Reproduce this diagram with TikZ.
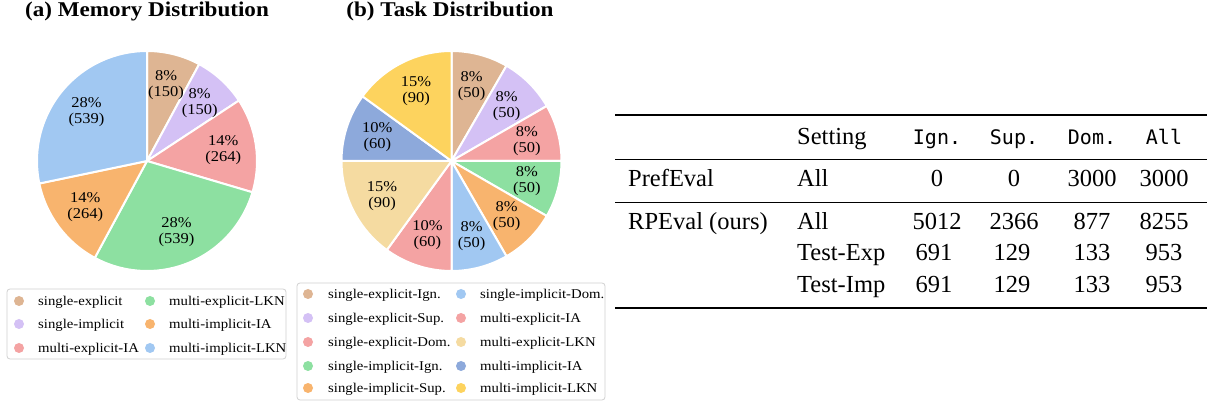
\documentclass[tikz,border=0pt]{standalone}
\usepackage{fontspec}
\setmainfont{Liberation Serif}
\newfontfamily\chartfont[FakeStretch=1.1]{Liberation Serif}
\newfontfamily\codefont{DejaVu Sans Mono}
\definecolor{ctan}{HTML}{DEB593}
\definecolor{clav}{HTML}{D4C1F5}
\definecolor{cpink}{HTML}{F4A3A3}
\definecolor{cgreen}{HTML}{8DE0A1}
\definecolor{corange}{HTML}{F8B46E}
\definecolor{cblue}{HTML}{A1C8F2}
\definecolor{cwheat}{HTML}{F5DBA1}
\definecolor{cdblue}{HTML}{8DA9DB}
\definecolor{cyellow}{HTML}{FDD35E}
\newcommand\myslice[4]{%
  \fill[#4, draw=white, line width=2pt, line join=round] (#1) -- ++(#2:110) arc[start angle=#2, end angle=#3, radius=110] -- cycle;}
\tikzset{
  pielabel/.style={font=\chartfont\fontsize{15}{16}\selectfont, align=center, inner sep=0pt},
  charttitle/.style={font=\chartfont\bfseries\fontsize{21}{24}\selectfont, anchor=base, inner sep=0pt},
  legmark/.style={circle, fill=#1, minimum size=10pt, inner sep=0pt},
  legtext/.style={font=\chartfont\fontsize{13.4}{16}\selectfont, anchor=base west, inner sep=0pt},
  legbox/.style={draw=black!18, line width=0.8pt, rounded corners=3pt, fill=white},
  tabtext/.style={font=\fontsize{24.5}{28}\selectfont, inner sep=0pt},
  tabcode/.style={font=\codefont\fontsize{20}{24}\selectfont, inner sep=0pt},
}
\begin{document}
\begin{tikzpicture}[x=1pt,y=1pt]
\useasboundingbox (0,0) rectangle (1210,407);
\fill[white] (0,0) rectangle (1210,407);

% ---------- (a) Memory Distribution ----------
\node[charttitle] (ta) at (147,390) {(a) Memory Distribution};
\coordinate (ca) at (147,246);
\myslice{ca}{90}{61.669}{ctan}
\myslice{ca}{61.669}{33.338}{clav}
\myslice{ca}{33.338}{-16.526}{cpink}
\myslice{ca}{-16.526}{-118.331}{cgreen}
\myslice{ca}{-118.331}{-168.195}{corange}
\myslice{ca}{-168.195}{-270}{cblue}
\node[pielabel] (la1) at ([shift={(75.835:78)}]ca) {8\%\\(150)};
\node[pielabel] (la2) at ([shift={(47.50:78)}]ca) {8\%\\(150)};
\node[pielabel] (la3) at ([shift={(8.406:77)}]ca) {14\%\\(264)};
\node[pielabel] (la4) at ([shift={(-67.43:77)}]ca) {28\%\\(539)};
\node[pielabel] (la5) at ([shift={(-143.26:77)}]ca) {14\%\\(264)};
\node[pielabel] (la6) at ([shift={(-219.10:78)}]ca) {28\%\\(539)};

% legend (a)
\draw[legbox] (7,48) rectangle (286,118);
\node[legmark=ctan] (ma1) at (19,106) {};
\node[legmark=clav] (ma2) at (19,83) {};
\node[legmark=cpink] (ma3) at (19,59) {};
\node[legmark=cgreen] (ma4) at (150,106) {};
\node[legmark=corange] (ma5) at (150,83) {};
\node[legmark=cblue] (ma6) at (150,59) {};
\node[legtext] (ea1) at (38,101.5) {single-explicit};
\node[legtext] (ea2) at (38,78.5) {single-implicit};
\node[legtext] (ea3) at (38,54.5) {multi-explicit-IA};
\node[legtext] (ea4) at (169,101.5) {multi-explicit-LKN};
\node[legtext] (ea5) at (169,78.5) {multi-implicit-IA};
\node[legtext] (ea6) at (169,54.5) {multi-implicit-LKN};

% ---------- (b) Task Distribution ----------
\node[charttitle] (tb) at (450,390) {(b) Task Distribution};
\coordinate (cb) at (451.5,246);
\myslice{cb}{90}{60}{ctan}
\myslice{cb}{60}{30}{clav}
\myslice{cb}{30}{0}{cpink}
\myslice{cb}{0}{-30}{cgreen}
\myslice{cb}{-30}{-60}{corange}
\myslice{cb}{-60}{-90}{cblue}
\myslice{cb}{-90}{-126}{cpink}
\myslice{cb}{-126}{-180}{cwheat}
\myslice{cb}{-180}{-216}{cdblue}
\myslice{cb}{-216}{-270}{cyellow}
\node[pielabel] (lb1) at ([shift={(75:78)}]cb) {8\%\\(50)};
\node[pielabel] (lb2) at ([shift={(45:78)}]cb) {8\%\\(50)};
\node[pielabel] (lb3) at ([shift={(15:78)}]cb) {8\%\\(50)};
\node[pielabel] (lb4) at ([shift={(-15:78)}]cb) {8\%\\(50)};
\node[pielabel] (lb5) at ([shift={(-45:78)}]cb) {8\%\\(50)};
\node[pielabel] (lb6) at ([shift={(-75:78)}]cb) {8\%\\(50)};
\node[pielabel] (lb7) at ([shift={(-108:78)}]cb) {10\%\\(60)};
\node[pielabel] (lb8) at ([shift={(-153:78)}]cb) {15\%\\(90)};
\node[pielabel] (lb9) at ([shift={(-198:78)}]cb) {10\%\\(60)};
\node[pielabel] (lb10) at ([shift={(-243:78)}]cb) {15\%\\(90)};

% legend (b)
\draw[legbox] (297,7) rectangle (605,124);
\node[legmark=ctan] (mb1) at (308,113) {};
\node[legmark=clav] (mb2) at (308,89) {};
\node[legmark=cpink] (mb3) at (308,65) {};
\node[legmark=cgreen] (mb4) at (308,41) {};
\node[legmark=corange] (mb5) at (308,19) {};
\node[legmark=cblue] (mb6) at (461,113) {};
\node[legmark=cpink] (mb7) at (461,89) {};
\node[legmark=cwheat] (mb8) at (461,65) {};
\node[legmark=cdblue] (mb9) at (461,41) {};
\node[legmark=cyellow] (mb10) at (461,19) {};
\node[legtext] (eb1) at (328,108.5) {single-explicit-Ign.};
\node[legtext] (eb2) at (328,84.5) {single-explicit-Sup.};
\node[legtext] (eb3) at (328,60.5) {single-explicit-Dom.};
\node[legtext] (eb4) at (328,36.5) {single-implicit-Ign.};
\node[legtext] (eb5) at (328,14.5) {single-implicit-Sup.};
\node[legtext] (eb6) at (480,108.5) {single-implicit-Dom.};
\node[legtext] (eb7) at (480,84.5) {multi-explicit-IA};
\node[legtext] (eb8) at (480,60.5) {multi-explicit-LKN};
\node[legtext] (eb9) at (480,36.5) {multi-implicit-IA};
\node[legtext] (eb10) at (480,14.5) {multi-implicit-LKN};

% ---------- table ----------
\draw[line width=1.6pt] (615,292) -- (1207,292);
\draw[line width=0.9pt] (615,248) -- (1207,248);
\draw[line width=0.9pt] (615,205) -- (1207,205);
\draw[line width=1.6pt] (615,99) -- (1207,99);

\node[tabtext, anchor=base west] (h1) at (797,262) {Setting};
\node[tabcode, anchor=base] (h2) at (937,262) {Ign.};
\node[tabcode, anchor=base] (h3) at (1014,262) {Sup.};
\node[tabcode, anchor=base] (h4) at (1092,262) {Dom.};
\node[tabcode, anchor=base] (h5) at (1164,262) {All};

\node[tabtext, anchor=base west] (r1a) at (628,220) {PrefEval};
\node[tabtext, anchor=base west] (r1b) at (797,220) {All};
\node[tabtext, anchor=base] (r1c) at (937,220) {0};
\node[tabtext, anchor=base] (r1d) at (1014,220) {0};
\node[tabtext, anchor=base] (r1e) at (1092,220) {3000};
\node[tabtext, anchor=base] (r1f) at (1164,220) {3000};

\node[tabtext, anchor=base west] (r2a) at (628,177.5) {RPEval (ours)};
\node[tabtext, anchor=base west] (r2b) at (797,177.5) {All};
\node[tabtext, anchor=base] (r2c) at (937,177.5) {5012};
\node[tabtext, anchor=base] (r2d) at (1014,177.5) {2366};
\node[tabtext, anchor=base] (r2e) at (1092,177.5) {877};
\node[tabtext, anchor=base] (r2f) at (1164,177.5) {8255};

\node[tabtext, anchor=base west] (r3b) at (797,146) {Test-Exp};
\node[tabtext, anchor=base] (r3c) at (934,146) {691};
\node[tabtext, anchor=base] (r3d) at (1012,146) {129};
\node[tabtext, anchor=base] (r3e) at (1092,146) {133};
\node[tabtext, anchor=base] (r3f) at (1164,146) {953};

\node[tabtext, anchor=base west] (r4b) at (797,114.5) {Test-Imp};
\node[tabtext, anchor=base] (r4c) at (934,114.5) {691};
\node[tabtext, anchor=base] (r4d) at (1012,114.5) {129};
\node[tabtext, anchor=base] (r4e) at (1092,114.5) {133};
\node[tabtext, anchor=base] (r4f) at (1164,114.5) {953};
\end{tikzpicture}
\end{document}
